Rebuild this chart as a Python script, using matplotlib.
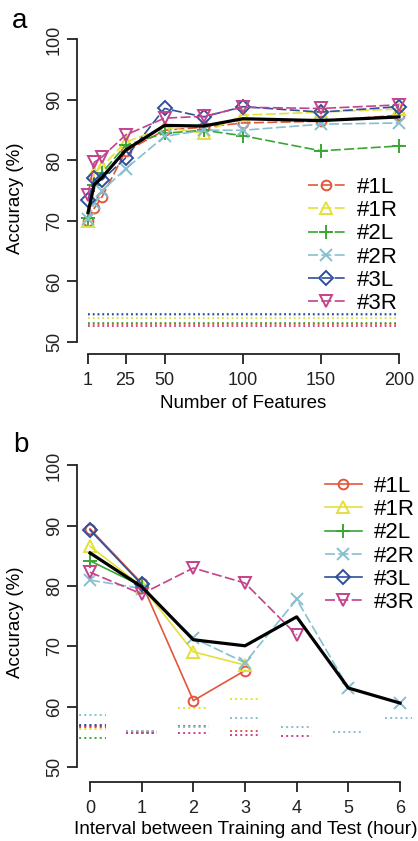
import numpy as np
import matplotlib
matplotlib.use("Agg")
import matplotlib.pyplot as plt

plt.rcParams['font.family'] = ['Liberation Sans', 'DejaVu Sans']

nan = np.nan

# ---- donnees panneau a : precision vs nombre de features
features = [1, 5, 10, 25, 50, 75, 100, 150, 200]
acc_1L = [70.0, 72.1, 74.0, 81.5, 85.0, 85.5, 86.2, 86.5, 87.5]
acc_1R = [70.0, 78.0, 79.0, 83.0, 85.5, 84.5, 87.5, 88.0, 88.5]
acc_2L = [70.5, 76.0, 78.0, 82.5, 84.5, 85.0, 84.1, 81.6, 82.4]
acc_2R = [70.3, 73.0, 75.0, 78.6, 84.0, 85.0, 85.0, 86.0, 86.2]
acc_3L = [73.5, 77.1, 76.8, 80.4, 88.6, 87.2, 88.9, 88.0, 88.9]
acc_3R = [74.3, 79.7, 80.6, 84.2, 87.0, 87.3, 88.8, 88.6, 89.2]
acc_mean_a = [71.4, 76.0, 77.2, 81.7, 85.8, 85.7, 86.9, 86.6, 87.2]
# niveaux de hasard (lignes pointillees)
chance_a = [53.0, 54.0, 53.2, 54.5, 54.7, 52.7]

# ---- donnees panneau b : precision vs intervalle (heures)
hours = [0, 1, 2, 3, 4, 5, 6]
int_1L = [89.5, 80.5, 61.0, 66.0, nan, nan, nan]
int_1R = [86.6, 80.0, 69.1, 66.9, nan, nan, nan]
int_2L = [84.2, 80.0, nan, nan, nan, nan, nan]
int_2R = [81.0, 79.6, 71.4, 67.3, 77.8, 63.1, 60.6]
int_3L = [89.3, 80.3, nan, nan, nan, nan, nan]
int_3R = [82.3, 78.7, 83.0, 80.5, 71.9, nan, nan]
int_mean = [85.5, 79.9, 71.1, 70.1, 74.9, 63.1, 60.6]
chance_1L = [56.8, 55.9, 56.8, 56.0, nan, nan, nan]
chance_1R = [56.3, 55.8, 59.8, 61.3, nan, nan, nan]
chance_2L = [54.8, 55.8, nan, nan, nan, nan, nan]
chance_2R = [58.6, 55.9, 56.7, 58.1, 56.6, 55.8, 58.2]
chance_3L = [57.0, 55.7, nan, nan, nan, nan, nan]
chance_3R = [56.6, 55.6, 55.6, 55.3, 55.1, nan, nan]

labels = ['#1L', '#1R', '#2L', '#2R', '#3L', '#3R']
colors = ['#E2573A', '#E3E03A', '#3AA634', '#86BFCF', '#2F4F9C', '#C4428C']
markers = ['o', '^', '+', 'x', 'D', 'v']
msizes = [7, 8, 10, 8, 7, 8]

W, H = 418, 841
fig = plt.figure(figsize=(W / 100, H / 100), dpi=100)


def px_axes(left, top, right, bottom):
    return fig.add_axes([left / W, 1 - bottom / H, (right - left) / W, (bottom - top) / H])


def style_axes(ax, xb, xt):
    for s in ['top', 'right']:
        ax.spines[s].set_visible(False)
    ax.spines['left'].set_bounds(50, 100)
    ax.spines['bottom'].set_bounds(xb[0], xb[1])
    for s in ['left', 'bottom']:
        ax.spines[s].set_linewidth(1.3)
        ax.spines[s].set_color('#222222')
    ax.set_yticks([50, 60, 70, 80, 90, 100])
    ax.set_xticks(xt)
    ax.tick_params(axis='both', direction='out', length=7, width=1.3, colors='#222222',
                   labelsize=13)
    ax.tick_params(axis='y', labelrotation=90, pad=3)
    ax.tick_params(axis='x', pad=6)
    for t in ax.get_yticklabels():
        t.set_va('center')


# ---------------- Panneau a
ax1 = px_axes(77, 36, 412, 354)
ax1.set_xlim(1 - 11 / 1.5628, 1 + 324 / 1.5628)
ax1.set_ylim(50 - 12 / 6.05, 50 + 306 / 6.05)
series_a = [acc_1L, acc_1R, acc_2L, acc_2R, acc_3L, acc_3R]
for i in range(6):
    ax1.plot([features[0], features[-1]], [chance_a[i], chance_a[i]], linestyle=':',
             color=colors[i], lw=1.3)
for i in range(6):
    ax1.plot(features, series_a[i], color=colors[i], marker=markers[i], ms=msizes[i],
             mfc='none', mew=1.4, lw=1.2, linestyle=(0, (6, 2)), label=labels[i])
ax1.plot(features, acc_mean_a, color='black', lw=2.3)
style_axes(ax1, (1, 200), [1, 25, 50, 100, 150, 200])
ax1.legend(loc='upper left', bbox_to_anchor=(308 / W, 1 - 177 / H), bbox_transform=fig.transFigure,
           frameon=False, fontsize=16, handlelength=1.65, handletextpad=0.55,
           labelspacing=0.1, borderpad=0, borderaxespad=0)

# ---------------- Panneau b
ax2 = px_axes(77, 462, 412, 782)
ax2.set_xlim(-13 / 51.67, 322 / 51.67)
ax2.set_ylim(50 - 15 / 6.03, 50 + 305 / 6.03)
series_b = [int_1L, int_1R, int_2L, int_2R, int_3L, int_3R]
chance_b = [chance_1L, chance_1R, chance_2L, chance_2R, chance_3L, chance_3R]
for i in range(6):
    for h, c in zip(hours, chance_b[i]):
        if not np.isnan(c):
            ax2.plot([h - 0.3, h + 0.3], [c, c], linestyle=':', color=colors[i], lw=1.4)
styles_b = ['-', '-', '-', (0, (6, 2)), '-', (0, (6, 2))]
for i in range(6):
    ax2.plot(hours, series_b[i], color=colors[i], marker=markers[i], ms=msizes[i],
             mfc='none', mew=1.4, lw=1.2, linestyle=styles_b[i], label=labels[i])
ax2.plot(hours, int_mean, color='black', lw=2.3)
style_axes(ax2, (0, 6), [0, 1, 2, 3, 4, 5, 6])
ax2.legend(loc='upper left', bbox_to_anchor=(325 / W, 1 - 476 / H), bbox_transform=fig.transFigure,
           frameon=False, fontsize=16, handlelength=1.65, handletextpad=0.55,
           labelspacing=0.1, borderpad=0, borderaxespad=0)

# ---------------- Textes
fig.text(12 / W, 1 - 28 / H, 'a', fontsize=20, va='baseline')
fig.text(13 / W, 1 - 452 / H, 'b', fontsize=20, va='baseline')
fig.text(16 / W, 1 - 198 / H, 'Accuracy (%)', rotation=90, fontsize=13.5, ha='center', va='center')
fig.text(16 / W, 1 - 622 / H, 'Accuracy (%)', rotation=90, fontsize=13.5, ha='center', va='center')
fig.text(243 / W, 1 - 404 / H, 'Number of Features', fontsize=13.5, ha='center', va='center')
fig.text(246 / W, 1 - 829 / H, 'Interval between Training and Test (hour)', fontsize=13.7,
         ha='center', va='center')

fig.savefig('out.png', dpi=100)
